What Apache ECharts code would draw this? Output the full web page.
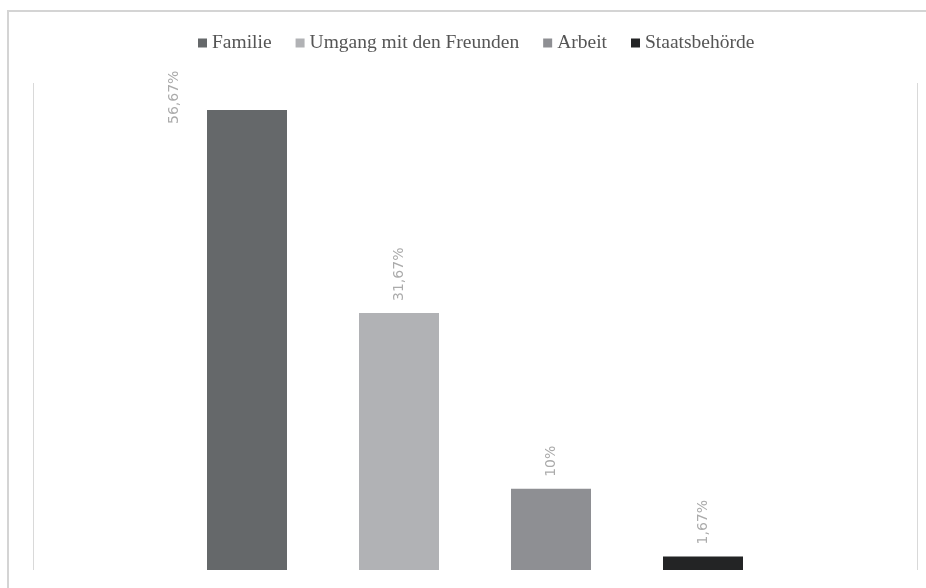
<!DOCTYPE html>
<html><head><meta charset="utf-8">
<script src="https://cdn.jsdelivr.net/npm/echarts@6/dist/echarts.min.js"></script>
<style>html,body{margin:0;padding:0;background:#fff}#c{width:926px;height:588px}</style>
</head><body><div id="c"></div>
<script>
const seriesNames = ['Familie', 'Umgang mit den Freunden', 'Arbeit', 'Staatsbehörde'];
const seriesValues = [56.67, 31.67, 10, 1.67];
const valueLabels = ['56,67%', '31,67%', '10%', '1,67%'];
const colors = ['#65686a', '#b1b2b5', '#8e8f93', '#232425'];

const chart = echarts.init(document.getElementById('c'));
const series = seriesNames.map((name, i) => {
  const label = {
    show: true,
    rotate: 90,
    position: 'top',
    distance: 12,
    align: 'left',
    verticalAlign: 'middle',
    fontFamily: 'DejaVu Sans',
    fontSize: 14,
    color: '#ababab',
    formatter: () => valueLabels[i]
  };
  if (i === 0) {
    label.position = [-33, 14];
  }
  return {
    name,
    type: 'bar',
    barWidth: 80,
    barGap: '90%',
    itemStyle: { color: colors[i] },
    label,
    data: [seriesValues[i]]
  };
});

chart.setOption({
  animation: false,
  color: colors,
  graphic: [{
    type: 'rect', silent: true,
    shape: { x: 8, y: 11, width: 1000, height: 1000 },
    style: { fill: 'none', stroke: '#d4d4d4', lineWidth: 2 }
  }],
  legend: {
    left: 193, top: 28,
    itemWidth: 9, itemHeight: 9, itemGap: 24,
    icon: 'rect',
    textStyle: { fontFamily: 'Liberation Serif', fontSize: 19.5, color: '#555' },
    data: seriesNames
  },
  grid: { left: 33, right: 9, top: 83, bottom: 18 },
  xAxis: {
    type: 'category',
    data: [''],
    axisLine: { show: false },
    axisTick: { show: false },
    axisLabel: { show: false },
    splitLine: { show: true, lineStyle: { color: '#d9d9d9', width: 1 } }
  },
  yAxis: {
    type: 'value', min: 0, max: 60,
    show: false
  },
  series
});
</script></body></html>
